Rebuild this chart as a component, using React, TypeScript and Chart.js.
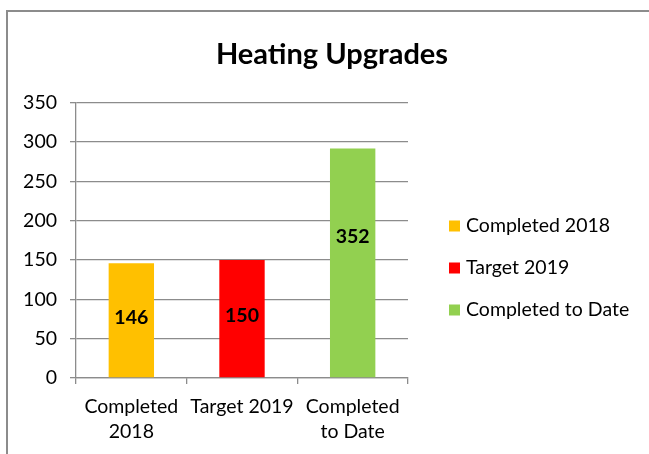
import React, { useEffect, useRef } from "react";
import { Chart, registerables } from "chart.js";

Chart.register(...registerables);

const categories: (string | string[])[] = [["Completed", "2018"], "Target 2019", ["Completed", "to Date"]];
const legendNames = ["Completed 2018", "Target 2019", "Completed to Date"];
const barValues = [146, 150, 292];
const labelValues = [146, 150, 352];
const barColors = ["#FFC000", "#FF0000", "#92D050"];
const yTicks = [0, 50, 100, 150, 200, 250, 300, 350];

const FONT = "Lato, 'Open Sans', sans-serif";
const GRID = "#8c8c8c";
const TXT = 19.5;

const labelPlugin = {
  id: "barLabels",
  afterDatasetsDraw(chart: any) {
    const ctx = chart.ctx;
    const meta = chart.getDatasetMeta(0);
    const yScale = chart.scales.y;
    ctx.save();
    ctx.font = `bold ${TXT}px ${FONT}`;
    ctx.fillStyle = "#000";
    ctx.textAlign = "center";
    ctx.textBaseline = "middle";
    meta.data.forEach((bar: any, i: number) => {
      const y = yScale.getPixelForValue(labelValues[i] / 2) - 3;
      ctx.fillText(String(labelValues[i]), bar.x, y);
    });
    ctx.restore();
  },
};

const legendPlugin = {
  id: "customLegend",
  afterDraw(chart: any) {
    const ctx = chart.ctx;
    const area = chart.chartArea;
    const x0 = area.right + 41;
    const yStart = 226;
    const step = 42;
    ctx.save();
    ctx.font = `${TXT}px ${FONT}`;
    ctx.textBaseline = "middle";
    ctx.textAlign = "left";
    legendNames.forEach((name, i) => {
      const y = yStart + i * step;
      ctx.fillStyle = barColors[i];
      ctx.fillRect(x0, y - 5.5, 11, 11);
      ctx.fillStyle = "#000";
      ctx.fillText(name, x0 + 17, y);
    });
    ctx.restore();
  },
};

export default function App() {
  const canvasRef = useRef<HTMLCanvasElement>(null);

  useEffect(() => {
    document.body.style.overflow = "hidden";
    const chart = new Chart(canvasRef.current as HTMLCanvasElement, {
      type: "bar",
      data: {
        labels: categories,
        datasets: [
          {
            label: "Heating Upgrades",
            data: barValues,
            backgroundColor: barColors,
            borderWidth: 0,
            barPercentage: 0.41,
            categoryPercentage: 1,
            yAxisID: "y",
          },
        ],
      },
      options: {
        animation: false,
        responsive: false,
        layout: { padding: { left: 15, right: 0, top: 0, bottom: 0 } },
        plugins: {
          legend: { display: false },
          tooltip: { enabled: false },
          title: {
            display: true,
            text: "Heating Upgrades",
            color: "#000",
            font: { family: FONT, size: 29, weight: "bold", lineHeight: 1.2 },
            padding: { top: 37, bottom: 31 },
          },
        },
        scales: {
          x: {
            grid: {
              display: true,
              drawOnChartArea: false,
              drawTicks: true,
              tickLength: 6,
              color: GRID,
              lineWidth: 1.3,
              offset: true,
            },
            border: { display: true, color: GRID, width: 1.3 },
            ticks: {
              color: "#000",
              font: { family: FONT, size: TXT, lineHeight: 1.28 },
              padding: 10,
              maxRotation: 0,
              autoSkip: false,
            },
            afterFit: (s: any) => {
              s.height = 76;
            },
          },
          y: {
            min: 0,
            max: 350,
            afterBuildTicks: (s: any) => {
              s.ticks = yTicks.map((v) => ({ value: v }));
            },
            grid: {
              color: GRID,
              lineWidth: 1.3,
              tickLength: 6,
              drawTicks: true,
            },
            border: { display: true, color: GRID, width: 1.3 },
            ticks: {
              color: "#000",
              font: { family: FONT, size: TXT },
              padding: 13,
            },
            afterFit: (s: any) => {
              s.width = 61;
            },
          },
          yR: {
            type: "linear",
            position: "right",
            display: true,
            grid: { display: false },
            border: { display: false },
            ticks: { display: false },
            afterFit: (s: any) => {
              s.width = 241;
            },
          },
        },
      },
      plugins: [labelPlugin, legendPlugin],
    } as any);
    return () => chart.destroy();
  }, []);

  return (
    <div style={{ position: "fixed", left: 0, top: 0, width: 649, height: 454, overflow: "hidden", background: "#fff" }}>
      <canvas ref={canvasRef} width={649} height={454} style={{ position: "absolute", left: 0, top: 0, width: 649, height: 454 }} />
      <div
        style={{
          position: "absolute",
          left: 6,
          top: 10,
          width: 1000,
          height: 1000,
          borderLeft: "2px solid #8c8c8c",
          borderTop: "2px solid #8c8c8c",
          pointerEvents: "none",
        }}
      />
    </div>
  );
}
